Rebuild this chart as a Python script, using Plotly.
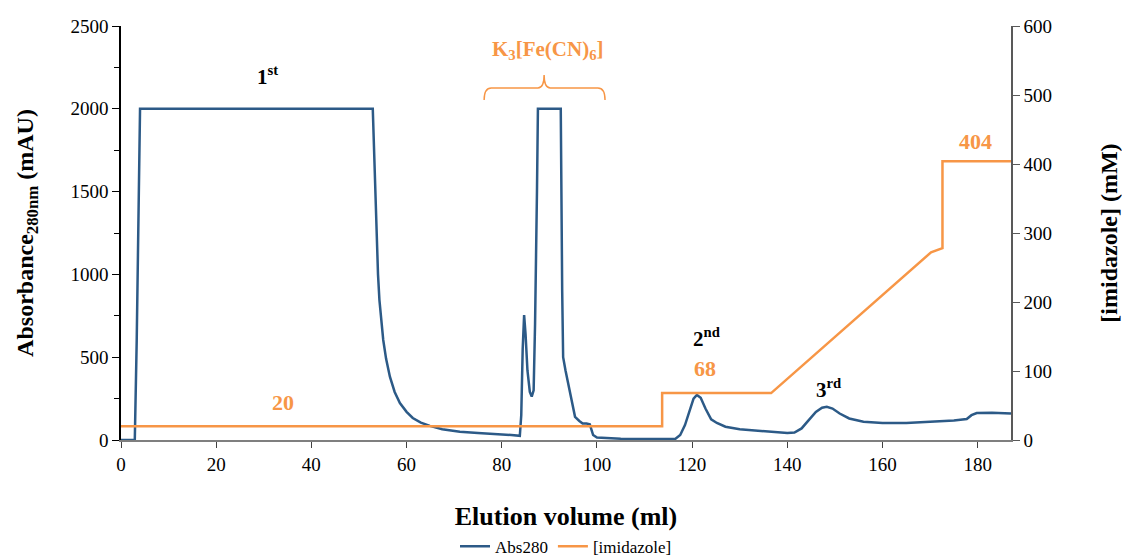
import plotly.graph_objects as go

# Elution volume (ml) and absorbance (mAU)
abs_x = [0, 2.9, 3.3, 3.7, 4.0, 52.9, 53.2, 53.4, 53.7, 54.0, 54.3, 54.7, 55.1, 55.7, 56.5, 57.5, 58.6, 60.0,
         61.3, 63.0, 64.9, 67.5, 71.2, 75.0, 79.6, 82.0, 83.8, 84.1, 84.4, 84.7, 85.0, 85.4, 85.9, 86.3, 86.7,
         87.0, 87.4, 87.6, 91.8, 92.4, 92.7, 92.9, 93.4, 93.9, 94.6, 95.4, 96.3, 97.0, 97.8, 98.5, 99.2, 100.0,
         105, 110, 115, 116.5, 117.5, 118.5, 119.5, 120.3, 121.0, 121.8, 122.8, 124.0, 125.2, 127.0, 130,
         135, 140, 141.5, 143.0, 144.5, 146.0, 147.3, 148.3, 149.5, 151.0, 153.0, 156.0, 160, 165, 170,
         175, 177.7, 178.7, 179.8, 183, 187]
abs_y = [0, 0, 600, 1400, 2000, 2000, 1700, 1450, 1208, 1000, 845, 720, 604, 490, 382, 290, 223, 170,
         133, 105, 85, 65, 50, 42, 36, 30, 25, 150, 550, 755, 640, 420, 290, 262, 300,
         700, 1500, 2000, 2000, 2000, 900, 500, 420, 345, 250, 140, 115, 100, 100, 95, 30, 15,
         8, 6, 6, 8, 30, 90, 180, 250, 272, 255, 190, 125, 103, 80, 65,
         52, 42, 45, 70, 120, 170, 195, 200, 190, 160, 130, 110, 102, 102, 110,
         118, 127, 150, 163, 165, 160]

# Imidazole concentration (mM)
imid_x = [0, 113.7, 113.7, 136.6, 170.2, 172.6, 172.6, 187]
imid_y = [20, 20, 68, 68, 272, 278, 404, 404]

x_ticks = [0, 20, 40, 60, 80, 100, 120, 140, 160, 180]
y_ticks = [0, 500, 1000, 1500, 2000, 2500]
y2_ticks = [0, 100, 200, 300, 400, 500, 600]

BLUE = "#2C5A87"
ORANGE = "#F79646"
FONT = "Liberation Serif, Times New Roman, serif"

fig = go.Figure()
fig.add_trace(go.Scatter(x=abs_x, y=abs_y, mode="lines", name="Abs280",
                         line=dict(color=BLUE, width=2.5), yaxis="y"))
fig.add_trace(go.Scatter(x=imid_x, y=imid_y, mode="lines", name="[imidazole]",
                         line=dict(color=ORANGE, width=2.5), yaxis="y2"))

ann_font = dict(family=FONT, size=21, color="black")
annos = [
    dict(x=30.7, y=2204, text="<b>1<sup>st</sup></b>", font=ann_font),
    dict(x=89.7, y=2355, text="<b>K<sub>3</sub>[Fe(CN)<sub>6</sub>]</b>", font=dict(family=FONT, size=21, color=ORANGE)),
    dict(x=123.0, y=616, text="<b>2<sup>nd</sup></b>", font=ann_font),
    dict(x=122.7, y=429, text="<b>68</b>", font=dict(family=FONT, size=22, color=ORANGE)),
    dict(x=148.6, y=314, text="<b>3<sup>rd</sup></b>", font=ann_font),
    dict(x=34.0, y=229, text="<b>20</b>", font=dict(family=FONT, size=22, color=ORANGE)),
    dict(x=179.5, y=1800, text="<b>404</b>", font=dict(family=FONT, size=22, color=ORANGE)),
]
for a in annos:
    a.update(xref="x", yref="y", showarrow=False)

# curly bracket over the ferricyanide peak
bracket = ("M 76.3,2053 Q 76.3,2126 77.8,2126 L 87.6,2126 Q 88.9,2126 88.9,2204 "
           "Q 88.9,2126 90.2,2126 L 100.2,2126 Q 101.7,2126 101.7,2053")

fig.update_layout(
    width=1122, height=559,
    margin=dict(l=121, r=111, t=26, b=119, autoexpand=False),
    paper_bgcolor="white", plot_bgcolor="white",
    font=dict(family=FONT, size=18, color="black"),
    showlegend=True,
    legend=dict(orientation="h", x=0.5, xanchor="center", y=-0.258, yanchor="middle",
                font=dict(family=FONT, size=17, color="black")),
    annotations=annos,
    shapes=[dict(type="path", path=bracket, xref="x", yref="y",
                 line=dict(color=ORANGE, width=1.5))],
    xaxis=dict(range=[0, 187], tickvals=x_ticks, showgrid=False, zeroline=False,
               showline=True, linecolor="#7F7F7F", linewidth=1.5,
               ticks="outside", ticklen=6, tickcolor="#404040",
               tickfont=dict(family=FONT, size=19),
               title=dict(text="<b>Elution volume (ml)</b>", font=dict(family=FONT, size=26), standoff=33)),
    yaxis=dict(range=[0, 2500], tickvals=y_ticks, showgrid=False, zeroline=False,
               showline=True, linecolor="black", linewidth=1.5,
               ticks="outside", ticklen=7, tickcolor="black",
               minor=dict(dtick=250, ticks="outside", ticklen=5, tickcolor="black"),
               tickfont=dict(family=FONT, size=19),
               title=dict(text="<b>Absorbance<sub>280nm</sub> (mAU)</b>", font=dict(family=FONT, size=24), standoff=30)),
    yaxis2=dict(range=[0, 600], tickvals=y2_ticks, overlaying="y", side="right",
                showgrid=False, zeroline=False,
                showline=True, linecolor="#595959", linewidth=1.5,
                ticks="outside", ticklen=7, tickcolor="#595959",
                tickfont=dict(family=FONT, size=19),
                title=dict(text="<b>[imidazole] (mM)</b>", font=dict(family=FONT, size=24), standoff=52)),
)

fig.write_html("out.html")
